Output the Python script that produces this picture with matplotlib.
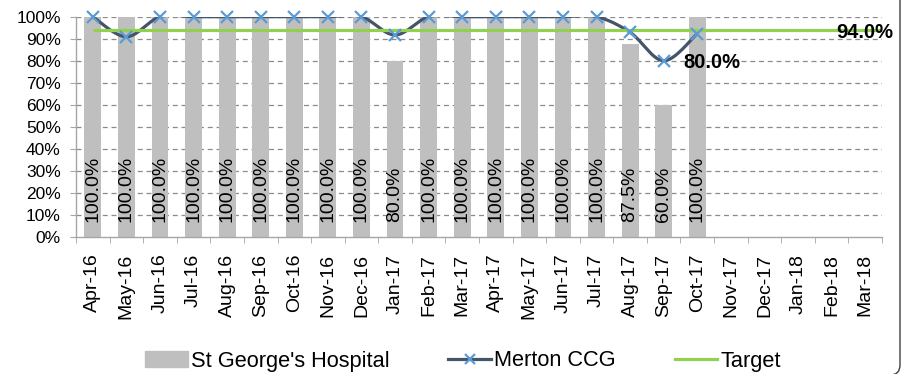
import numpy as np
import matplotlib.pyplot as plt
from matplotlib.patches import FancyBboxPatch, Patch
from matplotlib.lines import Line2D
from matplotlib.transforms import IdentityTransform

plt.rcParams['font.family'] = ['Liberation Sans', 'DejaVu Sans']

months = ['Apr-16', 'May-16', 'Jun-16', 'Jul-16', 'Aug-16', 'Sep-16', 'Oct-16',
          'Nov-16', 'Dec-16', 'Jan-17', 'Feb-17', 'Mar-17', 'Apr-17', 'May-17',
          'Jun-17', 'Jul-17', 'Aug-17', 'Sep-17', 'Oct-17', 'Nov-17', 'Dec-17',
          'Jan-18', 'Feb-18', 'Mar-18']

# St George's Hospital, % per month (Apr-16 .. Oct-17)
st_georges = [100.0, 100.0, 100.0, 100.0, 100.0, 100.0, 100.0, 100.0, 100.0,
              80.0, 100.0, 100.0, 100.0, 100.0, 100.0, 100.0, 87.5, 60.0, 100.0]

# Merton CCG, % per month (Apr-16 .. Oct-17)
merton = [100.0, 90.9, 100.0, 100.0, 100.0, 100.0, 100.0, 100.0, 100.0,
          91.7, 100.0, 100.0, 100.0, 100.0, 100.0, 100.0, 92.9, 80.0, 92.3]

target = 94.0

BAR_COL = '#BFBFBF'
LINE_COL = '#44546A'
MARK_COL = '#5B9BD5'
TARGET_COL = '#92D050'
AXIS_COL = '#A6A6A6'


def smooth(xs, ys, n=30):
    # bezier smoothing through the points, like spreadsheet "smoothed line"
    p = np.column_stack([xs, ys]).astype(float)
    out = []
    for i in range(len(p) - 1):
        p0 = p[i - 1] if i > 0 else p[i]
        p3 = p[i + 2] if i + 2 < len(p) else p[i + 1]
        c1 = p[i] + (p[i + 1] - p0) / 6
        c2 = p[i + 1] - (p3 - p[i]) / 6
        t = np.linspace(0, 1, n)[:, None]
        seg = ((1 - t) ** 3 * p[i] + 3 * (1 - t) ** 2 * t * c1
               + 3 * (1 - t) * t ** 2 * c2 + t ** 3 * p[i + 1])
        out.append(seg if i == 0 else seg[1:])
    out = np.vstack(out)
    return out[:, 0], out[:, 1]


fig = plt.figure(figsize=(9.07, 3.74), dpi=100)
ax = fig.add_axes([76 / 907, 1 - 237 / 374, 806 / 907, 220.3 / 374])

x_all = np.arange(len(months))
x_sg = np.arange(len(st_georges))
x_m = np.arange(len(merton))

ax.bar(x_sg, st_georges, width=0.5, color=BAR_COL, zorder=2)
for xi, v in zip(x_sg, st_georges):
    ax.annotate(f'{v:.1f}%', (xi, 0), xytext=(0, 11), textcoords='offset points',
                rotation=90, ha='center', va='bottom', fontsize=14, zorder=5)

sx, sy = smooth(x_m, merton)
ax.plot(sx, sy, color=LINE_COL, lw=2.3, zorder=3, solid_capstyle='round')
ax.plot(x_m, merton, ls='none', marker='x', ms=8, mew=1.6, color=MARK_COL,
        zorder=4, clip_on=False)
ax.annotate(f'{merton[17]:.1f}%', (x_m[17], merton[17]), xytext=(14, -1),
            textcoords='offset points', ha='left', va='center',
            fontsize=14.5, fontweight='bold', zorder=6)

ax.hlines(target, x_all[0], x_all[-1] + 0.5, color=TARGET_COL, lw=2.3, zorder=3.5)
ax.annotate(f'{target:.1f}%', (x_all[-1], target), xytext=(0, -2),
            textcoords='offset points', ha='center', va='center',
            fontsize=14.5, fontweight='bold', zorder=6)

ax.set_xlim(-0.5, len(months) - 0.5)
ax.set_ylim(0, 100)
ax.set_yticks(np.arange(0, 101, 10))
ax.set_yticklabels([f'{v}%' for v in range(0, 101, 10)], fontsize=12.5)
ax.set_xticks(x_all)
ax.set_xticklabels(months, rotation=90, fontsize=14)
ax.set_xticks(np.arange(-0.5, len(months)), minor=True)
ax.tick_params(axis='x', which='major', length=0, pad=12)
ax.tick_params(axis='x', which='minor', length=4, color=AXIS_COL, direction='out')
ax.tick_params(axis='y', length=4.5, color=AXIS_COL, pad=6.5)

for y in range(10, 101, 10):
    ax.axhline(y, color='#8C8C8C', lw=0.9, ls=(0, (4, 3)), zorder=1)

for s in ('top', 'right'):
    ax.spines[s].set_visible(False)
for s in ('left', 'bottom'):
    ax.spines[s].set_color(AXIS_COL)
    ax.spines[s].set_linewidth(1)

handles = [
    Patch(color=BAR_COL, label="St George's Hospital"),
    Line2D([], [], color=LINE_COL, lw=2.3, marker='x', ms=7, mew=1.6,
           mec=MARK_COL, label='Merton CCG'),
    Line2D([], [], color=TARGET_COL, lw=2.3, label='Target'),
]
fig.legend(handles=handles, loc='center', bbox_to_anchor=(463 / 907, 1 - 361 / 374),
           ncol=3, frameon=False, fontsize=15.7, handlelength=1.95, handleheight=0.7,
           handletextpad=0.15, columnspacing=2.7, borderpad=0, borderaxespad=0)

# outer chart frame
frame = FancyBboxPatch((-30, -1), 930, 400, boxstyle='round,pad=0,rounding_size=10',
                       transform=IdentityTransform(), fill=False,
                       edgecolor='#404040', lw=1)
fig.add_artist(frame)

fig.savefig('out.png', dpi=100)
